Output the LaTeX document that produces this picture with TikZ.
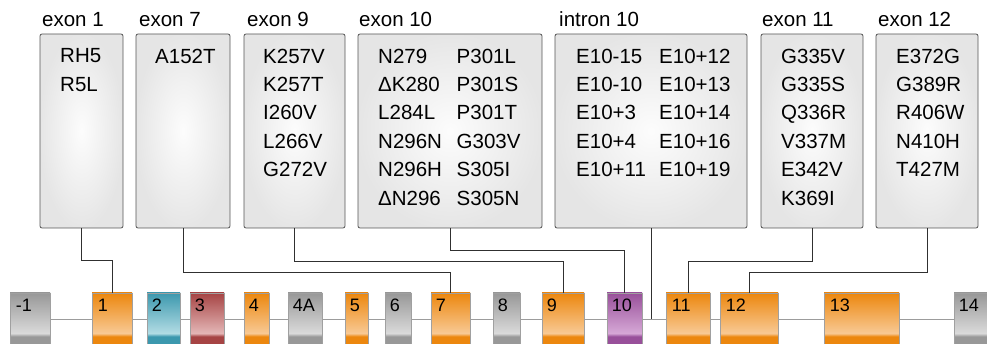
\documentclass[tikz,border=0pt]{standalone}
\usepackage{fontspec}
\setmainfont{Liberation Sans}
\usetikzlibrary{backgrounds}
\definecolor{oD}{HTML}{EC870E}
\definecolor{oL}{HTML}{F8C994}
\definecolor{tD}{HTML}{3C98AE}
\definecolor{tL}{HTML}{B2DCE4}
\definecolor{rD}{HTML}{A64444}
\definecolor{rL}{HTML}{E4B6B6}
\definecolor{pD}{HTML}{98509A}
\definecolor{pL}{HTML}{D6A8D6}
\definecolor{gD}{HTML}{989898}
\definecolor{gL}{HTML}{DADADA}
\definecolor{mbord}{HTML}{555555}
\definecolor{exbord}{HTML}{A0A0A0}
\definecolor{intronc}{HTML}{9C9C9C}
\definecolor{connc}{HTML}{303030}
\pgfdeclareverticalshading{orsh}{100bp}{color(0bp)=(oD); color(25bp)=(oD); color(34bp)=(oD); color(37bp)=(oL); color(75bp)=(oD); color(100bp)=(oD)}
\pgfdeclareverticalshading{tesh}{100bp}{color(0bp)=(tD); color(25bp)=(tD); color(34bp)=(tD); color(37bp)=(tL); color(75bp)=(tD); color(100bp)=(tD)}
\pgfdeclareverticalshading{resh}{100bp}{color(0bp)=(rD); color(25bp)=(rD); color(34bp)=(rD); color(37bp)=(rL); color(75bp)=(rD); color(100bp)=(rD)}
\pgfdeclareverticalshading{pusRh}{100bp}{color(0bp)=(pD); color(25bp)=(pD); color(34bp)=(pD); color(37bp)=(pL); color(75bp)=(pD); color(100bp)=(pD)}
\pgfdeclareverticalshading{grsh}{100bp}{color(0bp)=(gD); color(25bp)=(gD); color(34bp)=(gD); color(37bp)=(gL); color(75bp)=(gD); color(100bp)=(gD)}
\tikzset{
  mbox/.style={draw=mbord, line width=0.8pt, rounded corners=2pt, inner color=white!99!black, outer color=black!10, minimum height=194pt, inner sep=0pt},
  mtxt/.style={anchor=north west, inner sep=0pt, align=left, font=\fontsize{20.5}{28.4}\selectfont},
  hdr/.style={anchor=base west, inner sep=0pt, font=\fontsize{20.5}{24}\selectfont},
  exbox/.style={draw=exbord, line width=0.7pt, minimum height=53pt, inner sep=0pt},
  ornge/.style={exbox, shading=orsh},
  teal/.style={exbox, shading=tesh},
  redd/.style={exbox, shading=resh},
  purp/.style={exbox, shading=pusRh},
  gray/.style={exbox, shading=grsh},
  extxt/.style={anchor=base west, inner sep=0pt, font=\fontsize{18}{20}\selectfont},
  conn/.style={draw=connc, line width=0.9pt},
  intron/.style={draw=intronc, line width=1.5pt}
}
\begin{document}
\begin{tikzpicture}[x=1pt, y=-1pt]
\useasboundingbox (0,0) rectangle (987,344);
\clip (0,0) rectangle (987,344);
% mutation boxes
\node[mbox, minimum width=83pt] (b1) at (81.5,131) {};
\node[mbox, minimum width=94pt] (b2) at (183,131) {};
\node[mbox, minimum width=101pt] (b3) at (294.5,131) {};
\node[mbox, minimum width=184pt] (b4) at (450,131) {};
\node[mbox, minimum width=192pt] (b5) at (651,131) {};
\node[mbox, minimum width=102pt] (b6) at (812,131) {};
\node[mbox, minimum width=102pt] (b7) at (927,131) {};
% headers
\node[hdr] (h1) at (42,26.7) {exon 1};
\node[hdr] (h2) at (139,26.7) {exon 7};
\node[hdr] (h3) at (247,26.7) {exon 9};
\node[hdr] (h4) at (359,26.7) {exon 10};
\node[hdr] (h5) at (559,26.7) {intron 10};
\node[hdr] (h6) at (762,26.7) {exon 11};
\node[hdr] (h7) at (878,26.7) {exon 12};
% mutation texts
\node[mtxt] (t1) at (60,48.5) {RH5\\R5L};
\node[mtxt] (t2) at (155,48.5) {A152T};
\node[mtxt] (t3) at (263,48.5) {K257V\\K257T\\I260V\\L266V\\G272V};
\node[mtxt] (t4a) at (378,48.5) {N279\\ΔK280\\L284L\\N296N\\N296H\\ΔN296};
\node[mtxt] (t4b) at (456.5,48.5) {P301L\\P301S\\P301T\\G303V\\S305I\\S305N};
\node[mtxt] (t5a) at (576,48.5) {E10-15\\E10-10\\E10+3\\E10+4\\E10+11};
\node[mtxt] (t5b) at (659,48.5) {E10+12\\E10+13\\E10+14\\E10+16\\E10+19};
\node[mtxt] (t6) at (781,48.5) {G335V\\G335S\\Q336R\\V337M\\E342V\\K369I};
\node[mtxt] (t7) at (896,48.5) {E372G\\G389R\\R406W\\N410H\\T427M};
% exons
\node[gray, minimum width=40pt] (em1) at (30,319.5) {};
\node[ornge, minimum width=40pt] (e1) at (112,319.5) {};
\node[teal, minimum width=33pt] (e2) at (163.5,319.5) {};
\node[redd, minimum width=34pt] (e3) at (207,319.5) {};
\node[ornge, minimum width=25pt] (e4) at (256.5,319.5) {};
\node[gray, minimum width=34pt] (e4A) at (305,319.5) {};
\node[ornge, minimum width=23pt] (e5) at (356.5,319.5) {};
\node[gray, minimum width=26pt] (e6) at (398,319.5) {};
\node[ornge, minimum width=39pt] (e7) at (450.5,319.5) {};
\node[gray, minimum width=27pt] (e8) at (506.5,319.5) {};
\node[ornge, minimum width=42pt] (e9) at (563,319.5) {};
\node[purp, minimum width=35pt] (e10) at (624.5,319.5) {};
\node[ornge, minimum width=44pt] (e11) at (688,319.5) {};
\node[ornge, minimum width=58pt] (e12) at (749,319.5) {};
\node[ornge, minimum width=75pt] (e13) at (861.5,319.5) {};
\node[gray, minimum width=46pt] (e14) at (977,319.5) {};
% exon labels
\node[extxt] at ([xshift=6pt,yshift=-18.5pt]em1.north west) {-1};
\node[extxt] at ([xshift=6pt,yshift=-18.5pt]e1.north west) {1};
\node[extxt] at ([xshift=5pt,yshift=-18.5pt]e2.north west) {2};
\node[extxt] at ([xshift=5pt,yshift=-18.5pt]e3.north west) {3};
\node[extxt] at ([xshift=5pt,yshift=-18.5pt]e4.north west) {4};
\node[extxt] at ([xshift=5pt,yshift=-18.5pt]e4A.north west) {4A};
\node[extxt] at ([xshift=5pt,yshift=-18.5pt]e5.north west) {5};
\node[extxt] at ([xshift=5pt,yshift=-18.5pt]e6.north west) {6};
\node[extxt] at ([xshift=5pt,yshift=-18.5pt]e7.north west) {7};
\node[extxt] at ([xshift=5pt,yshift=-18.5pt]e8.north west) {8};
\node[extxt] at ([xshift=5pt,yshift=-18.5pt]e9.north west) {9};
\node[extxt] at ([xshift=5pt,yshift=-18.5pt]e10.north west) {10};
\node[extxt] at ([xshift=6pt,yshift=-18.5pt]e11.north west) {11};
\node[extxt] at ([xshift=6pt,yshift=-18.5pt]e12.north west) {12};
\node[extxt] at ([xshift=6pt,yshift=-18.5pt]e13.north west) {13};
\node[extxt] at ([xshift=5pt,yshift=-18.5pt]e14.north west) {14};
% intron line and connectors
\begin{scope}[on background layer]
\draw[intron] (em1.center) -- (e14.center);
\end{scope}
\draw[conn] (b1.south) -- ++(0,32) -| (e1.north);
\draw[conn] (b2.south) -- ++(0,44) -| (e7.north);
\draw[conn] (b3.south) -- ++(0,33) -| (e9.north);
\draw[conn] (b4.south) -- ++(0,22) -| (e10.north);
\draw[conn] (b5.south) -- (b5.south |- em1.center);
\draw[conn] (b6.south) -- ++(0,33) -| (e11.north);
\draw[conn] (b7.south) -- ++(0,44) -| (e12.north);
\end{tikzpicture}
\end{document}
